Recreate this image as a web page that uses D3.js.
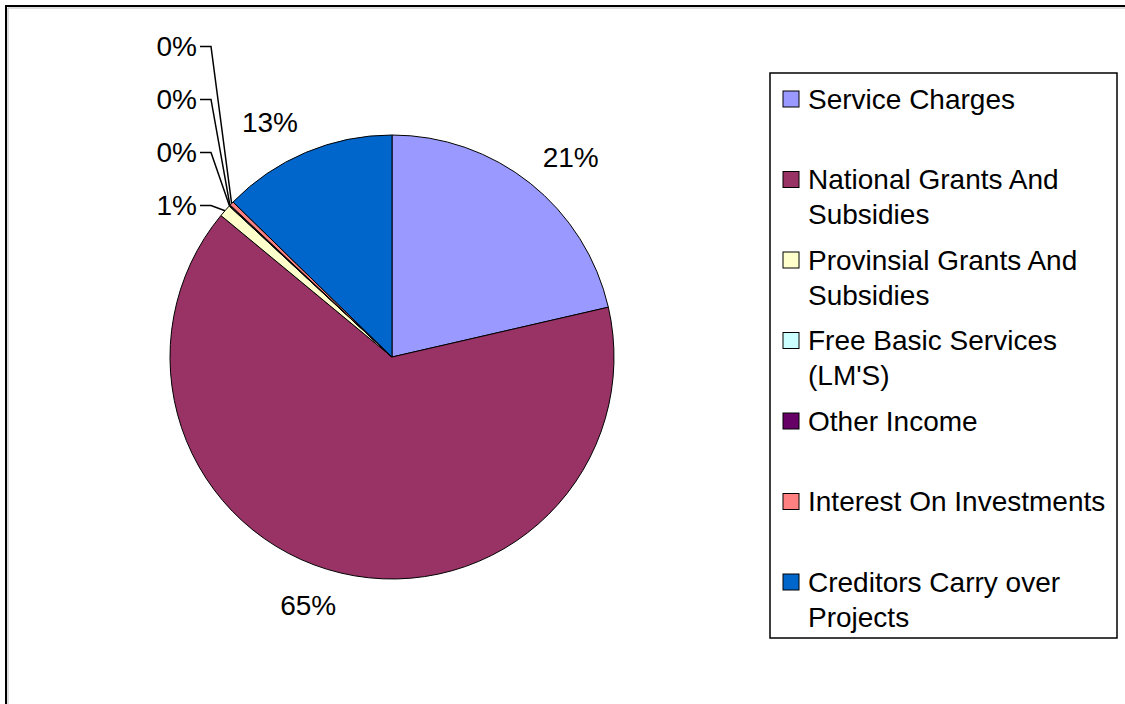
<!DOCTYPE html>
<html>
<head>
<meta charset="utf-8">
<script src="https://cdn.jsdelivr.net/npm/d3@7"></script>
<style>
  body { margin: 0; background: #fff; }
  svg { display: block; font-family: "Liberation Sans", Arial, sans-serif; }
</style>
</head>
<body>
<svg width="1125" height="704"></svg>
<script>
// chart data (percent of total)
const categories = [
  "Service Charges",
  "National Grants And Subsidies",
  "Provinsial Grants And Subsidies",
  "Free Basic Services (LM'S)",
  "Other Income",
  "Interest On Investments",
  "Creditors Carry over Projects"
];
const values = [21.4, 64.6, 0.9, 0.05, 0.05, 0.3, 12.7];
const colors = ["#9999FF", "#993366", "#FFFFCC", "#CCFFFF", "#660066", "#FF8080", "#0066CC"];

const svg = d3.select("svg");

// outer chart frame (only top and left edges show)
svg.append("rect")
  .attr("x", 6).attr("y", 6)
  .attr("width", 1200).attr("height", 800)
  .style("fill", "none")
  .style("stroke", "#000")
  .style("stroke-width", 2);
svg.append("path")
  .attr("d", "M8,710V8H1130")
  .style("fill", "none")
  .style("stroke", "#bbb")
  .style("stroke-width", 1);

const cx = 392, cy = 357, radius = 222;
const total = d3.sum(values);

const pie = d3.pie().sort(null).value((d) => d.value);
const arc = d3.arc().innerRadius(0).outerRadius(radius);

const data = categories.map((c, i) => ({ name: c, value: values[i], color: colors[i] }));
const arcs = pie(data);

const g = svg.append("g").attr("transform", `translate(${cx},${cy})`);

g.selectAll("path")
  .data(arcs)
  .join("path")
  .attr("d", arc)
  .style("fill", (d) => d.data.color)
  .style("stroke", "#000")
  .style("stroke-width", 1);

const pct = (v) => Math.round((v / total) * 100) + "%";
const fontSize = 28;
const midAngle = (d) => (d.startAngle + d.endAngle) / 2;

// large slices: label just outside the rim
const big = arcs.filter((d) => d.value / total >= 0.02);
const small = arcs.filter((d) => d.value / total < 0.02);

g.selectAll("text.big")
  .data(big)
  .join("text")
  .attr("class", "big")
  .attr("text-anchor", (d) => (Math.sin(midAngle(d)) < 0 ? "end" : "start"))
  .attr("dy", "0.35em")
  .style("font-size", fontSize + "px")
  .attr("x", (d) => Math.sin(midAngle(d)) * (radius + 20))
  .attr("y", (d) => -Math.cos(midAngle(d)) * (radius + 20) - Math.cos(midAngle(d)) * 13)
  .text((d) => pct(d.value));

// tiny slices: stacked labels with leader lines
const labelGap = 53;
const textRight = 197 - cx;
const elbowX = 211 - cx;
small.forEach((d, i) => {
  const a = midAngle(d);
  const ex = Math.sin(a) * radius;
  const ey = -Math.cos(a) * radius;
  const ly = -Math.cos(small[0].startAngle) * radius - 10 - i * labelGap;
  g.append("path")
    .attr("d", `M${textRight + 3},${ly}H${elbowX}L${ex},${ey}`)
    .style("fill", "none")
    .style("stroke", "#000")
    .style("stroke-width", 1.5);
  g.append("text")
    .attr("x", textRight)
    .attr("y", ly)
    .attr("dy", "0.35em")
    .attr("text-anchor", "end")
    .style("font-size", fontSize + "px")
    .text(pct(d.value));
});

// legend
const legendX = 770, legendY = 73, legendW = 347, legendH = 565;
const legend = svg.append("g");
legend.append("rect")
  .attr("x", legendX).attr("y", legendY)
  .attr("width", legendW).attr("height", legendH)
  .style("fill", "#fff")
  .style("stroke", "#000")
  .style("stroke-width", 1.5);

const rowStep = 80.5;
const lineStep = 35;
const firstRow = 99;
const maxTextW = 302;

data.forEach((d, i) => {
  const y = firstRow + i * rowStep;
  legend.append("rect")
    .attr("x", 783).attr("y", y - 8)
    .attr("width", 16).attr("height", 16)
    .style("fill", d.color)
    .style("stroke", "#000")
    .style("stroke-width", 1);

  const text = legend.append("text")
    .attr("x", 808)
    .attr("y", y)
    .style("font-size", fontSize + "px");
  // wrap words to the legend width
  const words = d.name.split(" ");
  let line = [];
  let lineNo = 0;
  let tspan = text.append("tspan").attr("x", 808).attr("y", y).attr("dy", "0.35em");
  words.forEach((w) => {
    line.push(w);
    tspan.text(line.join(" "));
    if (tspan.node().getComputedTextLength() > maxTextW && line.length > 1) {
      line.pop();
      tspan.text(line.join(" "));
      line = [w];
      lineNo++;
      tspan = text.append("tspan")
        .attr("x", 808)
        .attr("y", y + lineNo * lineStep)
        .attr("dy", "0.35em")
        .text(w);
    }
  });
});
</script>
</body>
</html>
